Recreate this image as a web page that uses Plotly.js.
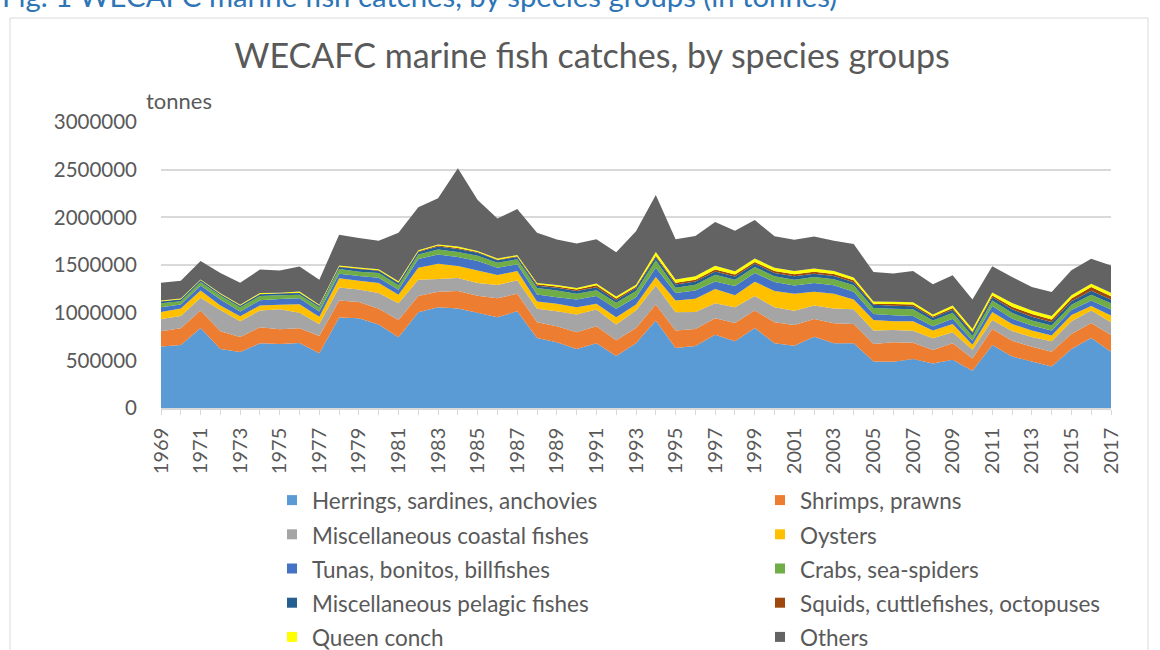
<!DOCTYPE html>
<html>
<head>
<meta charset="utf-8">
<script src="https://cdn.plot.ly/plotly-3.0.1.min.js"></script>
<style>
html, body { margin: 0; padding: 0; background: #ffffff; }
#chart { width: 1160px; height: 650px; }
</style>
</head>
<body>
<div id="chart"></div>
<script>
// ---- Data (tonnes) ----
const years = [1969,1970,1971,1972,1973,1974,1975,1976,1977,1978,1979,1980,1981,
  1982,1983,1984,1985,1986,1987,1988,1989,1990,1991,1992,1993,
  1994,1995,1996,1997,1998,1999,2000,2001,2002,2003,2004,
  2005,2006,2007,2008,2009,2010,2011,2012,2013,2014,2015,2016,2017];

const herrings = [646000,660000,840000,618000,587000,678000,671000,682000,573000,949000,942000,875000,741000,
  1005000,1057000,1043000,998000,952000,1015000,734000,689000,618000,678000,545000,678000,
  917000,629000,650000,769000,699000,840000,678000,653000,748000,678000,678000,
  488000,485000,513000,467000,506000,390000,660000,541000,488000,436000,618000,734000,590000];

const shrimps = [158000,176000,183000,186000,158000,169000,155000,155000,183000,179000,169000,165000,183000,
  169000,162000,183000,179000,200000,183000,165000,169000,176000,179000,165000,162000,
  169000,183000,179000,172000,193000,183000,221000,218000,186000,211000,204000,
  183000,204000,172000,141000,172000,130000,169000,165000,155000,155000,158000,158000,176000];

const coastal = [130000,130000,133000,225000,165000,176000,211000,162000,126000,137000,133000,165000,176000,
  172000,133000,137000,133000,137000,141000,141000,158000,186000,176000,165000,183000,
  200000,193000,179000,158000,165000,151000,158000,148000,141000,155000,155000,
  141000,130000,126000,123000,116000,91000,95000,102000,102000,109000,133000,130000,133000];

const oysters = [74000,77000,77000,46000,53000,53000,46000,88000,74000,95000,91000,105000,88000,
  126000,162000,126000,133000,105000,98000,77000,77000,77000,60000,77000,63000,
  88000,123000,137000,148000,126000,151000,169000,179000,144000,155000,102000,
  112000,91000,98000,81000,88000,53000,84000,74000,67000,60000,67000,49000,70000];

const tunas = [49000,42000,53000,63000,49000,53000,60000,63000,56000,49000,49000,56000,53000,
  91000,95000,95000,98000,77000,70000,74000,70000,81000,81000,88000,77000,
  98000,77000,88000,81000,98000,91000,95000,88000,91000,88000,81000,
  63000,63000,56000,46000,53000,42000,63000,56000,53000,53000,53000,56000,63000];

const crabs = [42000,35000,35000,42000,46000,46000,39000,39000,46000,49000,46000,49000,46000,
  46000,53000,53000,56000,53000,53000,67000,70000,60000,60000,63000,63000,
  77000,56000,60000,70000,63000,63000,60000,60000,63000,63000,67000,
  63000,67000,70000,60000,63000,49000,56000,60000,53000,53000,53000,60000,67000];

const pelagic = [18000,18000,18000,14000,14000,18000,18000,18000,14000,21000,28000,25000,25000,
  28000,32000,32000,32000,25000,25000,25000,28000,28000,32000,28000,32000,
  35000,35000,35000,35000,35000,35000,35000,35000,35000,35000,32000,
  32000,32000,32000,28000,32000,32000,35000,39000,39000,35000,39000,42000,39000];

const squids = [3000,3000,3000,3000,3000,3000,3000,3000,3000,4000,4000,4000,4000,
  7000,10000,10000,7000,7000,7000,14000,14000,18000,21000,18000,14000,
  14000,18000,18000,21000,21000,18000,21000,21000,21000,21000,21000,
  11000,18000,18000,14000,18000,14000,18000,25000,28000,28000,28000,39000,35000];

const conch = [7000,7000,7000,7000,7000,11000,7000,11000,7000,11000,11000,11000,14000,
  11000,11000,14000,11000,11000,14000,14000,14000,14000,18000,21000,21000,
  39000,35000,35000,39000,35000,35000,35000,35000,35000,32000,28000,
  25000,25000,25000,21000,28000,28000,32000,39000,39000,35000,35000,35000,35000];

const others = [186000,186000,193000,211000,232000,246000,232000,263000,263000,323000,309000,299000,509000,
  450000,485000,822000,534000,422000,481000,527000,478000,467000,464000,464000,562000,
  597000,422000,422000,457000,425000,404000,330000,327000,334000,316000,351000,
  309000,295000,327000,316000,316000,309000,274000,274000,246000,253000,260000,263000,288000];

const seriesNames = ["Herrings, sardines, anchovies","Shrimps, prawns","Miscellaneous coastal fishes","Oysters",
  "Tunas, bonitos, billfishes","Crabs, sea-spiders","Miscellaneous pelagic fishes",
  "Squids, cuttlefishes, octopuses","Queen conch","Others"];
const seriesValues = [herrings, shrimps, coastal, oysters, tunas, crabs, pelagic, squids, conch, others];
const seriesColors = ["#5b9bd5","#ed7d31","#a5a5a5","#ffc000","#4472c4","#70ad47","#255e91","#9e480e","#ffff00","#636363"];

const yTickVals = [0,500000,1000000,1500000,2000000,2500000,3000000];
const yTickText = ["0","500000","1000000","1500000","2000000","2500000","3000000"];
const xTickVals = [1969,1971,1973,1975,1977,1979,1981,1983,1985,1987,1989,1991,1993,1995,1997,1999,2001,2003,2005,2007,2009,2011,2013,2015,2017];

const captionText = "Fig. 1 WECAFC marine fish catches, by species groups (in tonnes)";
const titleText = "WECAFC marine fish catches, by species groups";
const unitText = "tonnes";

// ---- Pixel geometry helpers (plot area 161..1111 x, 122..408 y) ----
const W = 1160, H = 650;
const L = 161, R = 1111, T = 122, B = 408;
const px2x = p => (p - L) / (R - L);
const px2y = p => (B - p) / (B - T);

const FONT = "Lato, 'Open Sans', sans-serif";
const GREY = "#595959";

const traces = [];
seriesNames.forEach((name, i) => {
  traces.push({
    type: "scatter",
    x: years,
    y: seriesValues[i],
    name: name,
    stackgroup: "one",
    mode: "none",
    fillcolor: seriesColors[i],
    line: { width: 0, color: seriesColors[i] },
    showlegend: false,
    hovertemplate: name + "<br>%{x}: %{y}<extra></extra>"
  });
});
// legend entries (square swatches), split into two columns
seriesNames.forEach((name, i) => {
  traces.push({
    type: "scatter",
    x: [null],
    y: [null],
    name: '<span style="font-size:22.5px">' + name + '</span>',
    mode: "markers",
    marker: { symbol: "square", size: 10, color: seriesColors[i] },
    showlegend: true,
    legend: (i % 2 === 0) ? "legend" : "legend2",
    hoverinfo: "skip"
  });
});

const legendCommon = {
  orientation: "v",
  yanchor: "top",
  xanchor: "left",
  font: { family: FONT, size: 24, color: GREY },
  bgcolor: "rgba(0,0,0,0)",
  borderwidth: 0,
  itemclick: false,
  itemdoubleclick: false,
  traceorder: "normal",
  itemwidth: 30
};

const layout = {
  width: W,
  height: H,
  margin: { l: L, r: W - R, t: T, b: H - B, autoexpand: false },
  paper_bgcolor: "#ffffff",
  plot_bgcolor: "#ffffff",
  font: { family: FONT, color: GREY },
  title: {
    text: titleText,
    font: { family: FONT, size: 34, color: GREY },
    xref: "container", yref: "container",
    x: 592 / W, y: 1 - 56 / H,
    xanchor: "center", yanchor: "middle"
  },
  xaxis: {
    range: [1969, 2017],
    tickmode: "array",
    tickvals: xTickVals,
    tickangle: -90,
    ticks: "outside",
    ticklen: 5,
    tickcolor: "#d9d9d9",
    tickwidth: 1,
    ticklabelstandoff: 5,
    minor: { dtick: 1, tick0: 1969, ticks: "outside", ticklen: 5, tickcolor: "#d9d9d9", tickwidth: 1, showgrid: false },
    showgrid: false,
    zeroline: false,
    showline: true,
    linecolor: "#d9d9d9",
    linewidth: 1.5,
    tickfont: { family: FONT, size: 20, color: GREY },
    fixedrange: true
  },
  yaxis: {
    range: [0, 3000000],
    tickmode: "array",
    tickvals: yTickVals,
    ticktext: yTickText,
    showgrid: true,
    gridcolor: "#d9d9d9",
    gridwidth: 1.5,
    zeroline: false,
    showline: false,
    ticks: "",
    ticklabelstandoff: 23,
    tickfont: { family: FONT, size: 20.5, color: GREY },
    fixedrange: true
  },
  legend: Object.assign({}, legendCommon, { x: px2x(272), y: px2y(478) }),
  legend2: Object.assign({}, legendCommon, { x: px2x(760), y: px2y(478) }),
  annotations: [
    {
      text: captionText, xref: "paper", yref: "paper",
      x: px2x(0), y: px2y(-4), xanchor: "left", yanchor: "middle",
      showarrow: false, font: { family: FONT, size: 29.3, color: "#2e75b6" }
    },
    {
      text: unitText, xref: "paper", yref: "paper",
      x: px2x(144), y: px2y(100), xanchor: "left", yanchor: "middle",
      showarrow: false, font: { family: FONT, size: 22, color: GREY }
    }
  ],
  shapes: [
    {
      type: "rect", xref: "paper", yref: "paper",
      x0: px2x(10), x1: px2x(1148), y0: px2y(680), y1: px2y(18),
      line: { color: "#d9d9d9", width: 1 }, fillcolor: "rgba(0,0,0,0)", layer: "below"
    }
  ],
  showlegend: true,
  hovermode: "closest"
};

Plotly.newPlot("chart", traces, layout, { displayModeBar: false, staticPlot: false, responsive: false });
</script>
</body>
</html>
